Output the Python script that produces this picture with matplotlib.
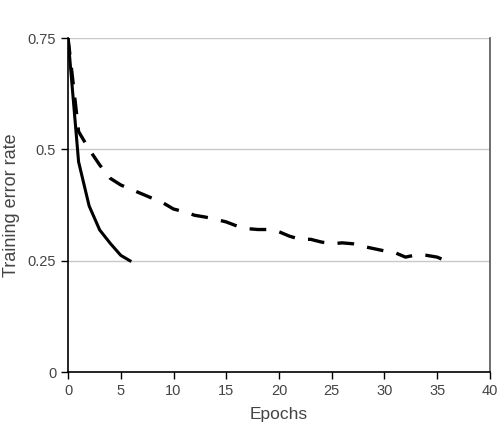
import numpy as np
import matplotlib.pyplot as plt

plt.rcParams['font.family'] = ['Liberation Sans', 'DejaVu Sans']

# solid curve: short run
solid_epochs = [0, 1, 2, 3, 4, 5, 6]
solid_err = [0.75, 0.472, 0.373, 0.319, 0.289, 0.262, 0.248]

# dashed curve: long run
dash_epochs = list(range(0, 37))
dash_err = [0.75, 0.54, 0.50, 0.465, 0.435, 0.42, 0.41, 0.40, 0.39, 0.38,
            0.366, 0.36, 0.352, 0.348, 0.343, 0.337, 0.328, 0.322, 0.32, 0.32,
            0.315, 0.305, 0.298, 0.298, 0.292, 0.288, 0.29, 0.288, 0.282, 0.277,
            0.272, 0.268, 0.258, 0.263, 0.262, 0.258, 0.248]

xticks = [0, 5, 10, 15, 20, 25, 30, 35, 40]
yticks = [0, 0.25, 0.5, 0.75]
ylabels = ['0', '0.25', '0.5', '0.75']

fig = plt.figure(figsize=(5.04, 4.4), dpi=100)
ax = fig.add_axes([0.135, 0.1545, 0.837, 0.7591])

ax.plot(solid_epochs, solid_err, color='black', lw=2.2, solid_capstyle='butt')
ax.plot(dash_epochs, dash_err, color='black', lw=2.4, dashes=(5, 4))

ax.set_xlim(0, 40)
ax.set_ylim(0, 0.75)
ax.set_xticks(xticks)
ax.set_yticks(yticks)
ax.set_yticklabels(ylabels)
ax.yaxis.grid(True, color='#c8c8c8', lw=1)
ax.set_axisbelow(True)

for s in ['left', 'bottom']:
    ax.spines[s].set_color('black')
    ax.spines[s].set_linewidth(1.2)
ax.spines['right'].set_color('#555555')
ax.spines['right'].set_linewidth(1.2)
ax.spines['top'].set_visible(False)

ax.tick_params(direction='out', length=5, width=1, colors='black',
               labelcolor='#444444', labelsize=10.5)

ax.set_xlabel('Epochs', fontsize=12.5, color='#444444')
ax.set_ylabel('Training error rate', fontsize=13, color='#444444')
ax.xaxis.set_label_coords(0.5, -0.105)
ax.yaxis.set_label_coords(-0.114, 0.5)

fig.savefig('out.png', dpi=100)
